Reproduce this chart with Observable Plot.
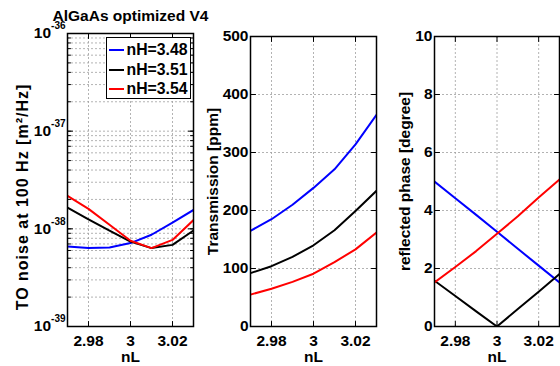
<!DOCTYPE html>
<html><head><meta charset="utf-8">
<script src="https://cdn.jsdelivr.net/npm/d3@7"></script>
<script src="https://cdn.jsdelivr.net/npm/@observablehq/plot@0.6"></script>
<style>
html,body{margin:0;padding:0;background:#fff;}
#wrap{position:relative;width:560px;height:366px;overflow:hidden;font-family:"Liberation Sans",Arial,Helvetica,sans-serif;font-weight:bold;background:#fff;}
#wrap svg{position:absolute;top:0;}
.legend{position:absolute;left:106px;top:37px;width:85px;height:62px;box-sizing:border-box;border:1.5px solid #000;background:#fff;padding-top:2px;}
.row{height:19.7px;display:flex;align-items:center;font-size:15.8px;line-height:1;color:#000;}
.sw{display:inline-block;width:15px;height:2px;margin-left:2px;margin-right:2.5px;}
</style></head><body><div id="wrap"></div>
<script>
// ---- data ----
const nL = [2.97, 2.98, 2.99, 3.00, 3.01, 3.02, 3.03];
const seriesNames = ["nH=3.48", "nH=3.51", "nH=3.54"];
const seriesColors = ["#0000ff", "#000000", "#ff0000"];
const noise348 = [6.6e-39, 6.35e-39, 6.45e-39, 7.15e-39, 8.7e-39, 1.16e-38, 1.56e-38];
const noise351 = [1.65e-38, 1.25e-38, 9.6e-39, 7.4e-39, 6.35e-39, 6.85e-39, 9.6e-39];
const noise354 = [2.17e-38, 1.6e-38, 1.1e-38, 7.55e-39, 6.35e-39, 7.7e-39, 1.23e-38];
const trans348 = [165, 185, 210, 239, 271, 314, 365];
const trans351 = [92, 104, 120, 140, 166, 199, 234];
const trans354 = [55, 65, 77, 91, 111, 133, 162];
const phase348 = [5.0, 4.42, 3.85, 3.27, 2.68, 2.1, 1.52];
const phase351 = [1.58, 1.05, 0.52, 0.0, 0.6, 1.2, 1.81];
const phase354 = [1.52, 2.05, 2.6, 3.2, 3.8, 4.45, 5.07];
const xTicks = [2.98, 3, 3.02];
const noiseTicks = [1e-39, 1e-38, 1e-37, 1e-36];
const noiseTickExp = ["-39", "-38", "-37", "-36"];
const transTicks = [0, 100, 200, 300, 400, 500];
const phaseTicks = [0, 2, 4, 6, 8, 10];
const titleText = "AlGaAs optimized V4";
const xLabel = "nL";
const noiseLabel = "TO noise at 100 Hz [m²/Hz]";
const transLabel = "Transmission [ppm]";
const phaseLabel = "reflected phase [degree]";

// ---- helpers ----
const FONT = '"Liberation Sans", Arial, Helvetica, sans-serif';
const table = (arrs) => arrs.flatMap((vals, i) => vals.map((v, j) => ({nL: nL[j], v, s: seriesNames[i]})));
const tickShape = {draw(ctx, l) { ctx.moveTo(0, 0); ctx.lineTo(0, -l); }};
function inTicks(values, axis, len) {
  const c = {length: len, anchor: "start", shape: tickShape, stroke: "black", strokeWidth: 1};
  if (axis === "x") return [
    Plot.vector(values, {...c, x: d => d, frameAnchor: "bottom", rotate: 0}),
    Plot.vector(values, {...c, x: d => d, frameAnchor: "top", rotate: 180})];
  return [
    Plot.vector(values, {...c, y: d => d, frameAnchor: "left", rotate: 90}),
    Plot.vector(values, {...c, y: d => d, frameAnchor: "right", rotate: -90})];
}
const gridStyle = {stroke: "#a0a0a0", strokeOpacity: 1, strokeDasharray: "2,2", strokeWidth: 0.8};

function panel({data, yOpts, yTicks, yGrid, yMinor, yFormat, yLabel, labelDx, labelDy = 0, labelSize = 15.5, ml, mr, mt, width, extra = []}) {
  return Plot.plot({
    width, height: 366, marginLeft: ml, marginRight: mr, marginTop: mt, marginBottom: 40,
    style: {fontFamily: FONT, fontSize: "15.5px", fontWeight: "bold", background: "transparent", overflow: "visible", color: "black"},
    x: {domain: [2.97, 3.03]},
    y: yOpts,
    color: {domain: seriesNames, range: seriesColors},
    marks: [
      Plot.gridX(xTicks, gridStyle),
      Plot.gridY(yGrid || yTicks, gridStyle),
      Plot.line(data, {x: "nL", y: "v", z: "s", stroke: "s", strokeWidth: 2, clip: true}),
      Plot.axisX(xTicks, {tickSize: 0, tickPadding: 8, tickFormat: d => String(+d.toFixed(2)), label: null}),
      Plot.axisY(yTicks, {tickSize: 0, tickPadding: 2, tickFormat: yFormat, label: null}),
      ...inTicks(xTicks, "x", 5),
      ...inTicks(yTicks, "y", 5),
      ...(yMinor ? inTicks(yMinor, "y", 3) : []),
      Plot.frame({stroke: "black", strokeWidth: 1.5}),
      Plot.text([yLabel], {frameAnchor: "left", textAnchor: "middle", rotate: -90, lineAnchor: "bottom", dx: labelDx, dy: labelDy, fontSize: labelSize}),
      Plot.text([xLabel], {frameAnchor: "bottom", lineAnchor: "bottom", dy: 35}),
      ...extra
    ]
  });
}

const wrap = document.getElementById("wrap");
const logMinor = d3.scaleLog().domain([1e-39, 1e-36]).ticks();

const left = panel({
  data: table([noise348, noise351, noise354]),
  yOpts: {type: "log", domain: [1e-39, 1e-36]},
  yTicks: noiseTicks, yGrid: logMinor, yMinor: logMinor,
  yFormat: (d) => "10|" + noiseTickExp[noiseTicks.indexOf(d)],
  yLabel: noiseLabel, labelDx: -40, labelDy: 17, labelSize: 16,
  ml: 67, mr: 7, mt: 33, width: 200,
  extra: [Plot.text([titleText], {frameAnchor: "top", lineAnchor: "bottom", dy: -13, fontSize: 15.5})]
});
left.style.left = "0px";
wrap.appendChild(left);
d3.select(left).selectAll('g[aria-label="y-axis tick label"] text').each(function() {
  const [base, exp] = this.textContent.split("|");
  const t = d3.select(this);
  t.text(null);
  t.append("tspan").text(base);
  t.append("tspan").attr("dy", -9).attr("font-size", "10px").text(exp);
});
d3.select(left).selectAll("text").filter(function() { return this.textContent === noiseLabel; })
  .style("letter-spacing", "1px");

const mid = panel({
  data: table([trans348, trans351, trans354]),
  yOpts: {domain: [0, 500]},
  yTicks: transTicks, yFormat: d => String(d),
  yLabel: transLabel, labelDx: -32.5,
  ml: 60, mr: 4, mt: 36, width: 190
});
mid.style.left = "190px";
wrap.appendChild(mid);

const right = panel({
  data: table([phase348, phase351, phase354]),
  yOpts: {domain: [0, 10]},
  yTicks: phaseTicks, yFormat: d => String(d),
  yLabel: phaseLabel, labelDx: -25,
  ml: 59, mr: 1, mt: 36, width: 185
});
right.style.left = "375px";
wrap.appendChild(right);

// legend
const leg = d3.select(wrap).append("div").attr("class", "legend");
seriesNames.forEach((name, i) => {
  const row = leg.append("div").attr("class", "row");
  row.append("span").attr("class", "sw").style("background", seriesColors[i]);
  row.append("span").text(name);
});
</script></body></html>
